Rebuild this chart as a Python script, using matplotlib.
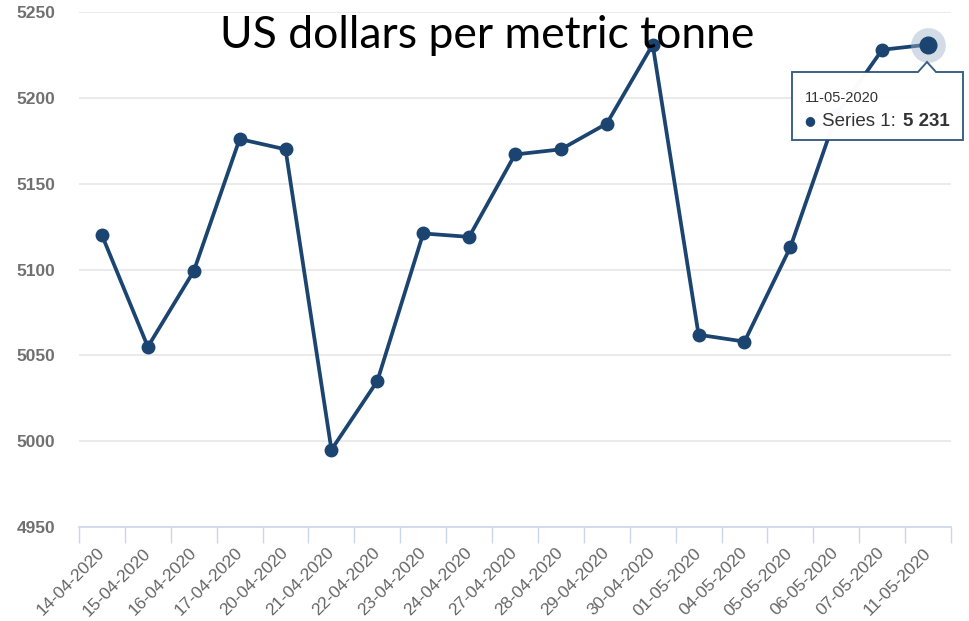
import matplotlib.pyplot as plt
from matplotlib.patches import FancyBboxPatch, Polygon

# Data
dates = ['14-04-2020', '15-04-2020', '16-04-2020', '17-04-2020', '20-04-2020',
         '21-04-2020', '22-04-2020', '23-04-2020', '24-04-2020', '27-04-2020',
         '28-04-2020', '29-04-2020', '30-04-2020', '01-05-2020', '04-05-2020',
         '05-05-2020', '06-05-2020', '07-05-2020', '11-05-2020']
prices = [5120, 5055, 5099, 5176, 5170, 4995, 5035, 5121, 5119, 5167,
          5170, 5185, 5231, 5062, 5058, 5113, 5190, 5228, 5231]
y_ticks = [4950, 5000, 5050, 5100, 5150, 5200, 5250]
hover_index = 18

line_color = "#1b4570"
axis_color = "#ccd6eb"

fig = plt.figure(figsize=(9.69, 6.21), dpi=100)
W, H = 969, 621
ax = fig.add_axes([79 / W, (H - 527) / H, (951 - 79) / W, (527 - 12) / H])

x = list(range(len(dates)))
ax.plot(x, prices, color=line_color, linewidth=2.7, marker='o',
        markersize=9, zorder=3)

# hovered point with halo
ax.plot(x[hover_index], prices[hover_index], 'o', markersize=25,
        color="#9fb3c8", alpha=0.45, zorder=4, markeredgewidth=0)
ax.plot(x[hover_index], prices[hover_index], 'o', markersize=12,
        color=line_color, zorder=5)

ax.set_xlim(-0.5, len(dates) - 0.5)
ax.set_ylim(y_ticks[0], y_ticks[-1])
ax.set_yticks(y_ticks)
ax.set_xticks(x)
ax.set_xticklabels(dates, rotation=45, ha='right', va='center',
                   rotation_mode='anchor', fontsize=12.5, color='#666666',
                   family='Liberation Sans')
ax.set_xticks([i - 0.5 for i in range(len(dates) + 1)], minor=True)
ax.tick_params(axis='x', which='major', length=0, pad=17)
ax.tick_params(axis='x', which='minor', length=11.5, color=axis_color, width=1)
ax.tick_params(axis='y', length=0, pad=17, labelsize=12.5,
               labelcolor='#707070')
for lbl in ax.get_yticklabels():
    lbl.set_family('Liberation Sans')
    lbl.set_fontweight('bold')

ax.grid(axis='y', color='#e6e6e6', linewidth=1.2)
ax.set_axisbelow(True)
for side in ['top', 'left', 'right']:
    ax.spines[side].set_visible(False)
ax.spines['bottom'].set_color(axis_color)
ax.spines['bottom'].set_linewidth(1.2)


# tooltip box in pixel coordinates
def px(xp, yp):
    return (xp / W, (H - yp) / H)


box_x0, box_y0, box_x1, box_y1 = 792, 72, 963, 140
box = FancyBboxPatch(px(box_x0, box_y1), (box_x1 - box_x0) / W,
                     (box_y1 - box_y0) / H,
                     boxstyle="round,pad=0,rounding_size=0.004",
                     transform=fig.transFigure, facecolor='white', alpha=0.85,
                     edgecolor='none', zorder=6)
fig.patches.append(box)
outline = Polygon([px(box_x0, box_y0), px(918, box_y0), px(927, 62),
                   px(936, box_y0), px(box_x1, box_y0), px(box_x1, box_y1),
                   px(box_x0, box_y1)], closed=True,
                  transform=fig.transFigure, facecolor='white', alpha=0.85,
                  edgecolor=line_color, linewidth=1.4, zorder=7)
fig.patches.append(outline)

fig.text(*px(805, 98), dates[hover_index], fontsize=10.5, color='#333333',
         va='center', family='Liberation Sans', zorder=8)
fig.text(*px(804, 121), '\u25cf', fontsize=9, color=line_color,
         va='center', family='DejaVu Sans', zorder=8)
fig.text(*px(822, 121), 'Series 1:', fontsize=13.5, color='#333333',
         va='center', family='Liberation Sans', zorder=8)
fig.text(*px(903, 121), f'{prices[hover_index]:,}'.replace(',', ' '),
         fontsize=13.5, color='#333333', va='center', fontweight='bold',
         family='Liberation Sans', zorder=8)

fig.text(487 / W, (H - 48) / H, 'US dollars per metric tonne',
         fontsize=32, family='Lato', color='black', ha='center',
         va='baseline', zorder=8)

fig.savefig('out.png', dpi=100, facecolor='white')
